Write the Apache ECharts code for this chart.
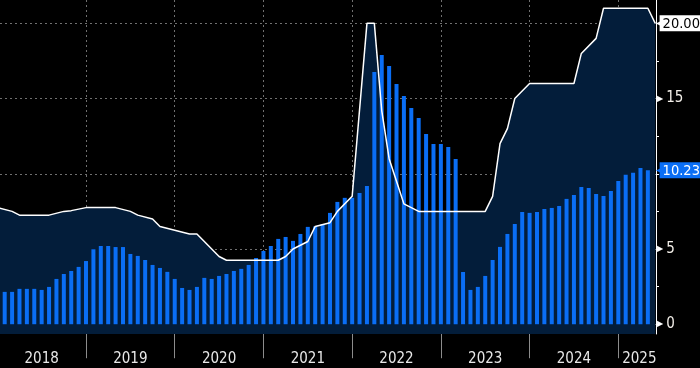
<!DOCTYPE html>
<html><head><meta charset="utf-8">
<script src="https://cdn.jsdelivr.net/npm/echarts@6/dist/echarts.min.js"></script>
<style>html,body{margin:0;padding:0;background:#000}#c{width:700px;height:368px}</style>
</head><body><div id="c"></div>
<script>
// ---- data ----
const startYear = 2018;
const yearLabels = ['2018','2019','2020','2021','2022','2023','2024','2025'];
// CPI y/y, monthly Jan 2018 .. Apr 2025 (bars, plotted at month end)
const cpiValues = [
  2.15, 2.15, 2.35, 2.35, 2.35, 2.28, 2.48, 3.01, 3.34, 3.54, 3.81, 4.2,
  4.98, 5.2, 5.2, 5.13, 5.13, 4.67, 4.54, 4.27, 3.94, 3.74, 3.48, 3.01,
  2.41, 2.28, 2.48, 3.08, 3.01, 3.21, 3.34, 3.54, 3.68, 3.94, 4.4, 4.87,
  5.2, 5.67, 5.8, 5.54, 6.0, 6.47, 6.5, 6.66, 7.4, 8.13, 8.4, 8.4,
  8.72, 9.19, 16.76, 17.89, 17.16, 15.97, 15.17, 14.37, 13.7, 12.64, 11.98, 11.98,
  11.78, 10.98, 3.47, 2.28, 2.48, 3.21, 4.27, 5.14, 6.0, 6.66, 7.46, 7.4,
  7.46, 7.66, 7.73, 7.86, 8.33, 8.59, 9.12, 9.06, 8.66, 8.53, 8.86, 9.52,
  9.94, 10.06, 10.38, 10.23
];
// Key rate: line vertices (months after Dec 2017 month end) and values
const rateMonths = [0, 2, 3, 7, 9, 10, 12, 16, 18, 19, 21, 22, 24, 26, 27, 30, 31, 38, 39, 40, 42, 43, 45, 46, 48, 50, 51, 52, 53, 54, 55, 57, 66, 67, 68, 69, 70, 72, 78, 79, 81, 82, 88, 89];
const rateValues = [7.75, 7.5, 7.25, 7.25, 7.5, 7.55, 7.75, 7.75, 7.5, 7.25, 7.0, 6.5, 6.25, 6.0, 6.0, 4.5, 4.25, 4.25, 4.5, 5.0, 5.5, 6.5, 6.75, 7.5, 8.5, 20, 20, 14.2, 11, 9.5, 8.0, 7.5, 7.5, 8.5, 12, 13, 15, 16, 16, 18, 19, 21, 21, 20];
const yTickValues = [0, 5, 10, 15, 20];
const yLabelValues = [0, 5, 15];
const yMinorValues = [2.5, 7.5, 12.5, 17.5];

// ---- axes ranges ----
const xMin = 0.365, xMax = 89.1, yMin = -0.65, yMax = 21.55;

const FONT = "'Liberation Sans Narrow','DejaVu Sans Condensed','Roboto Condensed','Arial Narrow',sans-serif";

const barData = cpiValues.map((v, i) => [i + 1, v]);
const rateData = rateMonths.map((m, i) => [m, rateValues[i]]);
const yearBoundaries = yearLabels.slice(1).map((y, i) => (i + 1) * 12);
const quarterTicks = [];
for (let q = 3; q < xMax; q += 3) quarterTicks.push(q);
const yearCenters = yearLabels.map((y, i) => Math.min(i * 12 + 6, (i * 12 + xMax) / 2 + 0.3));

const lastRate = rateValues[rateValues.length - 1];
const lastCpi = cpiValues[cpiValues.length - 1];

const chart = echarts.init(document.getElementById('c'), null, {renderer: 'canvas'});
const baseX = {type: 'value', min: xMin, max: xMax, position: 'bottom', axisLine: {show: false}, axisLabel: {show: false}, axisTick: {show: false}, splitLine: {show: false}};
function boxLabel(val, bg, fg) {
  return {show: true, position: 'right', distance: 0, opacity: 1,
    formatter: '{a|◀}{b|' + val.toFixed(2) + '}',
    rich: {
      a: {color: bg, fontSize: 6, fontFamily: 'DejaVu Sans', padding: [0, -1, 0, 0]},
      b: {backgroundColor: bg, color: fg, fontSize: 14.5, lineHeight: 15, fontFamily: FONT, padding: [1, 1, 0, 3]}
    }};
}
chart.setOption({
  backgroundColor: '#000',
  animation: false,
  grid: {left: 0, right: 44, top: 0, bottom: 34, containLabel: false},
  xAxis: [
    Object.assign({}, baseX, {
      axisTick: {show: true, customValues: yearBoundaries, length: 34, lineStyle: {color: '#8c8c8c', width: 1}},
      splitLine: {show: true, lineStyle: {color: '#707070', type: [2, 3], width: 1}}
    }),
    Object.assign({}, baseX, {
      axisTick: {show: true, customValues: quarterTicks, length: 3, lineStyle: {color: '#d8d8d8', width: 1}}
    }),
    Object.assign({}, baseX, {
      axisLabel: {show: true, customValues: yearCenters, margin: 18, color: '#e8e8e8', fontSize: 15, fontFamily: FONT,
        formatter: v => yearLabels[Math.floor(v / 12)]}
    })
  ],
  yAxis: [
    {type: 'value', position: 'right', min: yMin, max: yMax,
      axisLine: {show: true, lineStyle: {color: '#ffffff', width: 1}},
      axisTick: {show: true, customValues: yTickValues, length: 3, lineStyle: {color: '#ffffff'}},
      axisLabel: {show: true, customValues: yLabelValues, margin: 1,
        formatter: v => '{t|▶}{v|' + v + '}',
        rich: {
          t: {color: '#ffffff', fontSize: 8, fontFamily: 'DejaVu Sans'},
          v: {color: '#f2eee8', fontSize: 15, fontFamily: FONT, padding: [0, 0, 0, 3]}
        }},
      splitLine: {show: true, lineStyle: {color: '#707070', type: [2, 3], width: 1}}
    },
    {type: 'value', position: 'right', min: yMin, max: yMax,
      axisLine: {show: false},
      axisTick: {show: true, customValues: yMinorValues, length: 3, lineStyle: {color: '#ffffff'}},
      axisLabel: {show: false}, splitLine: {show: false}
    }
  ],
  series: [
    {type: 'line', name: 'area', xAxisIndex: 0, yAxisIndex: 0, data: rateData, showSymbol: false, silent: true,
      lineStyle: {width: 0, opacity: 0}, areaStyle: {color: '#031d3a', opacity: 1, origin: 'start'}, z: 1},
    {type: 'bar', name: 'CPI', xAxisIndex: 0, yAxisIndex: 0, data: barData, barWidth: 4,
      itemStyle: {color: '#0a6ef5'}, z: 2},
    {type: 'line', name: 'Key rate', xAxisIndex: 0, yAxisIndex: 0, data: rateData, showSymbol: false,
      lineStyle: {color: '#ffffff', width: 1.5}, z: 3},
    {type: 'scatter', xAxisIndex: 0, yAxisIndex: 0, symbolSize: 0, clip: false, silent: true, z: 10,
      itemStyle: {opacity: 1},
      data: [
        {value: [xMax, lastRate], label: boxLabel(lastRate, '#ffffff', '#000000')},
        {value: [xMax, lastCpi], label: boxLabel(lastCpi, '#0a6ef5', '#ffffff')}
      ]}
  ]
});
</script></body></html>
